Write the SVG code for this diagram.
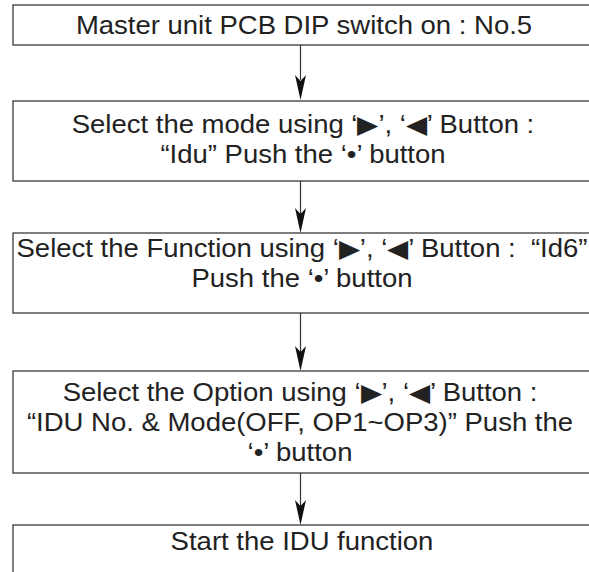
<svg xmlns="http://www.w3.org/2000/svg" width="589" height="572" viewBox="0 0 589 572">
<style>
.box{fill:#fff;stroke:#3a3a3a;stroke-width:1.3}
.t{font-family:"Liberation Sans",Arial,sans-serif;font-size:25px;fill:#222;text-anchor:middle;white-space:pre}
.c{stroke:#333;stroke-width:1.2;fill:none}
.h{fill:#111;stroke:none}
</style>
<defs>
<path id="ah" d="M0,0 L-5.5,-25 L0,-19 L5.5,-25 Z"/>
</defs>
<rect x="0" y="0" width="589" height="572" fill="#fff"/>
<g id="connectors">
<line class="c" x1="300.5" y1="45" x2="300.5" y2="80"/>
<use href="#ah" class="h" x="300.5" y="100"/>
<line class="c" x1="300.5" y1="181" x2="300.5" y2="214"/>
<use href="#ah" class="h" x="300.5" y="233"/>
<line class="c" x1="300.5" y1="313" x2="300.5" y2="352"/>
<use href="#ah" class="h" x="300.5" y="371"/>
<line class="c" x1="300.5" y1="473" x2="300.5" y2="506"/>
<use href="#ah" class="h" x="300.5" y="525"/>
</g>
<g id="n1">
<rect class="box" x="13" y="5" width="600" height="40"/>
<text class="t" transform="translate(304,34) scale(1.1,1)">Master unit PCB DIP switch on : No.5</text>
</g>
<g id="n2">
<rect class="box" x="13" y="101" width="600" height="80"/>
<text class="t" transform="translate(303,133) scale(1.1,1)">Select the mode using ‘▶’, ‘◀’ Button :</text>
<text class="t" transform="translate(303,163) scale(1.1,1)">“Idu” Push the ‘•’ button</text>
</g>
<g id="n3">
<rect class="box" x="13" y="233" width="600" height="80"/>
<text class="t" transform="translate(302,257) scale(1.1,1)">Select the Function using ‘▶’, ‘◀’ Button :  “Id6”</text>
<text class="t" transform="translate(302,287) scale(1.1,1)">Push the ‘•’ button</text>
</g>
<g id="n4">
<rect class="box" x="13" y="371" width="600" height="102"/>
<text class="t" transform="translate(300,401) scale(1.1,1)">Select the Option using ‘▶’, ‘◀’ Button :</text>
<text class="t" transform="translate(300,431) scale(1.1,1)">“IDU No. &amp; Mode(OFF, OP1~OP3)” Push the</text>
<text class="t" transform="translate(300,461) scale(1.1,1)">‘•’ button</text>
</g>
<g id="n5">
<rect class="box" x="13" y="525" width="600" height="60"/>
<text class="t" transform="translate(302,550) scale(1.1,1)">Start the IDU function</text>
</g>
</svg>
